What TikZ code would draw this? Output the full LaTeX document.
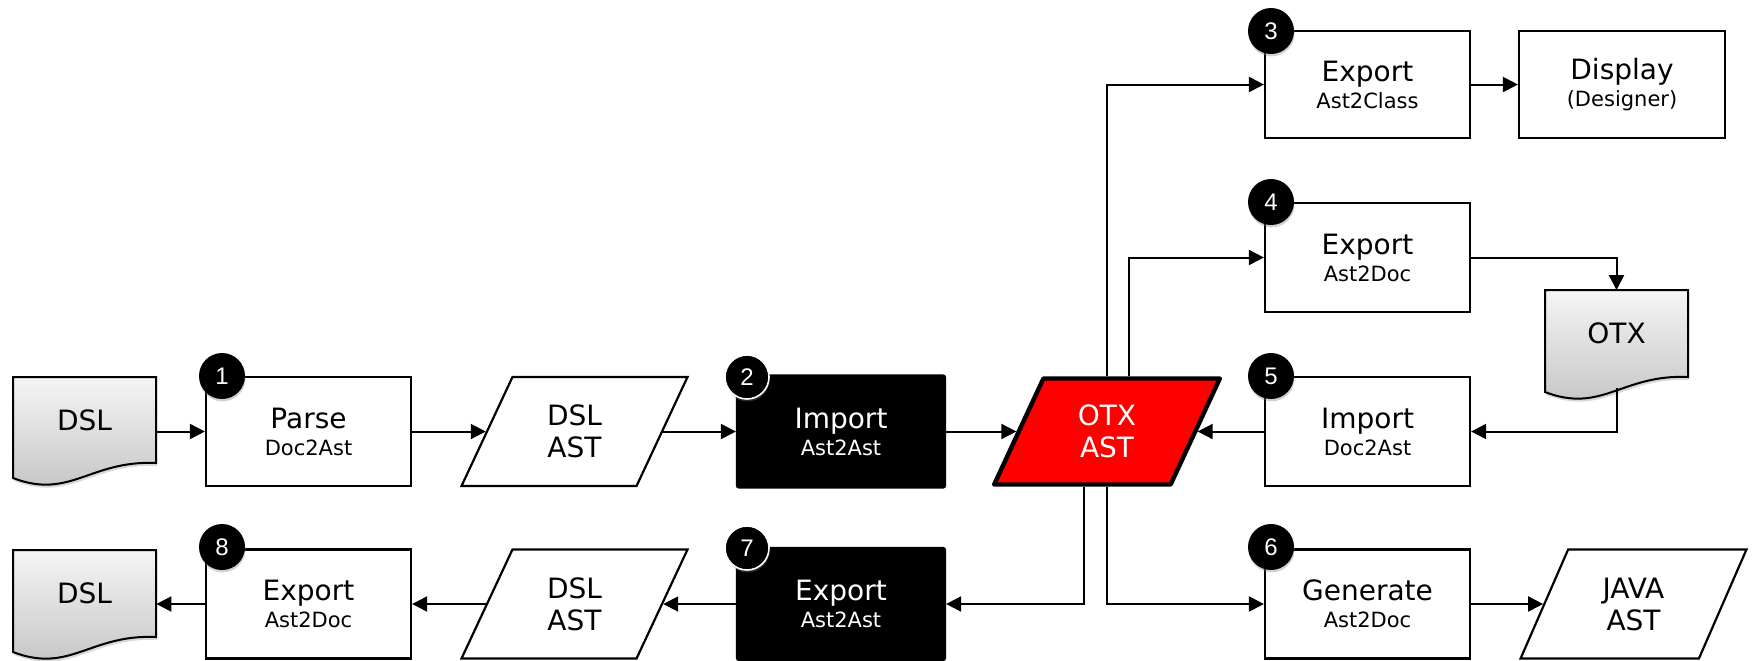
\documentclass[tikz,border=0pt]{standalone}
\usepackage{fontspec}
\setmainfont{DejaVu Sans}
\newfontfamily\badgefont{Liberation Sans}
\usetikzlibrary{arrows.meta,shapes.geometric,shadows,calc}

\tikzset{
  box/.style={draw, line width=1.1pt, minimum width=102.5pt, minimum height=54.5pt,
    inner sep=0pt, align=center, font=\fontsize{14pt}{13.5pt}\selectfont},
  darkbox/.style={box, fill=black, text=white, rounded corners=1pt,
    minimum width=104pt, minimum height=56pt},
  para/.style={trapezium, trapezium left angle=67, trapezium right angle=113,
    trapezium stretches=true, draw, line width=1.1pt, minimum width=113.5pt,
    minimum height=54.5pt, inner sep=0pt, align=center,
    font=\fontsize{14pt}{16pt}\selectfont},
  otxpara/.style={para, fill=red, text=white, line width=2.2pt, minimum width=113pt,
    minimum height=53pt, line join=round},
  docnode/.style={minimum width=71.5pt, minimum height=43pt, inner sep=0pt,
    font=\fontsize{14pt}{16pt}\selectfont},
  docpath/.style={draw, line width=1pt, top color=gray!8, bottom color=gray!48,
    drop shadow={opacity=0.3, shadow xshift=0.6pt, shadow yshift=-1.5pt}},
  badge/.style={circle, fill=black, minimum size=23pt, inner sep=0pt, text=white,
    font=\badgefont\fontsize{12pt}{12pt}\selectfont,
    drop shadow={opacity=0.35, shadow xshift=0.3pt, shadow yshift=-1.2pt}},
  wbadge/.style={badge, draw=white, line width=0.8pt, minimum size=22pt},
  arr/.style={line width=1pt, -{Triangle[length=7.5pt,width=7.5pt]}}
}
\newcommand\subt[1]{{\fontsize{10.5pt}{13.5pt}\selectfont #1}}
\newcommand\docshape[4]{%
  \path[docpath] (#1,#2) -- (#3,#2) -- (#3,#4)
    .. controls ({#3-66},{#4-3}) and ({#1+57},{#4+37}) .. (#1,{#4+15}) -- cycle;}

\begin{document}
\begin{tikzpicture}[x=0.5pt, y=-0.5pt]
\useasboundingbox (0,0) rectangle (1754,660);
\fill[white] (0,0) rectangle (1754,660);

% row 1
\docshape{13}{377}{156}{463}
\node[docnode] (dsl1) at (84.5,420) {DSL};
\node[box] (parse) at (308.5,431.5) {Parse\\\subt{Doc2Ast}};
\node[para] (dslast1) at (574.5,431.5) {DSL\\AST};
\node[darkbox] (imp2) at (841,431.5) {Import\\\subt{Ast2Ast}};
\node[otxpara] (otx) at (1107,431.5) {OTX\\AST};
\node[box] (imp5) at (1367.5,431.5) {Import\\\subt{Doc2Ast}};

% upper right
\node[box, minimum height=53.5pt] (exp3) at (1367.5,84.5) {Export\\\subt{Ast2Class}};
\node[box, minimum height=53.5pt, minimum width=103pt] (disp) at (1622,84.5) {Display\\\subt{(Designer)}};
\node[box] (exp4) at (1367.5,257.5) {Export\\\subt{Ast2Doc}};
\docshape{1545}{290}{1688}{377}
\node[docnode] (otxdoc) at (1616.5,333.5) {OTX};
\coordinate (otxdocb) at ($(otxdoc.south)+(0,11)$);

% row 2
\node[box] (gen) at (1367.5,604) {Generate\\\subt{Ast2Doc}};
\node[para] (java) at (1633.5,604) {JAVA\\AST};
\node[darkbox] (exp7) at (841,604) {Export\\\subt{Ast2Ast}};
\node[para] (dslast2) at (574.5,604) {DSL\\AST};
\node[box] (exp8) at (308.5,604) {Export\\\subt{Ast2Doc}};
\docshape{13}{550}{156}{637}
\node[docnode] (dsl2) at (84.5,593.5) {DSL};

% badges
\node[badge] (b1) at (222,376) {1};
\node[wbadge] (b2) at (747,377) {2};
\node[badge] (b3) at (1271,31) {3};
\node[badge] (b4) at (1271,202) {4};
\node[badge] (b5) at (1271,376) {5};
\node[badge] (b6) at (1271,547) {6};
\node[wbadge] (b7) at (747,548) {7};
\node[badge] (b8) at (222,547) {8};

% connectors
\draw[arr] (parse.west -| dsl1.east) -- (parse.west);
\draw[arr] (parse.east) -- (dslast1.left side);
\draw[arr] (dslast1.right side) -- (imp2.west);
\draw[arr] (imp2.east) -- (otx.left side);
\draw[arr] (imp5.west) -- (otx.right side);
\draw[arr] (otx.north) |- (exp3.west);
\draw[arr] ([xshift=11pt]otx.north) |- (exp4.west);
\draw[arr] ([xshift=-11.5pt]otx.south) |- (exp7.east);
\draw[arr] (otx.south) |- (gen.west);
\draw[arr] (exp3.east) -- (disp.west);
\draw[arr] (exp4.east) -| (otxdoc.north);
\draw[arr] (otxdocb) |- (imp5.east);
\draw[arr] (gen.east) -- (java.left side);
\draw[arr] (exp7.west) -- (dslast2.right side);
\draw[arr] (dslast2.left side) -- (exp8.east);
\draw[arr] (exp8.west) -- (exp8.west -| dsl2.east);
\end{tikzpicture}
\end{document}
